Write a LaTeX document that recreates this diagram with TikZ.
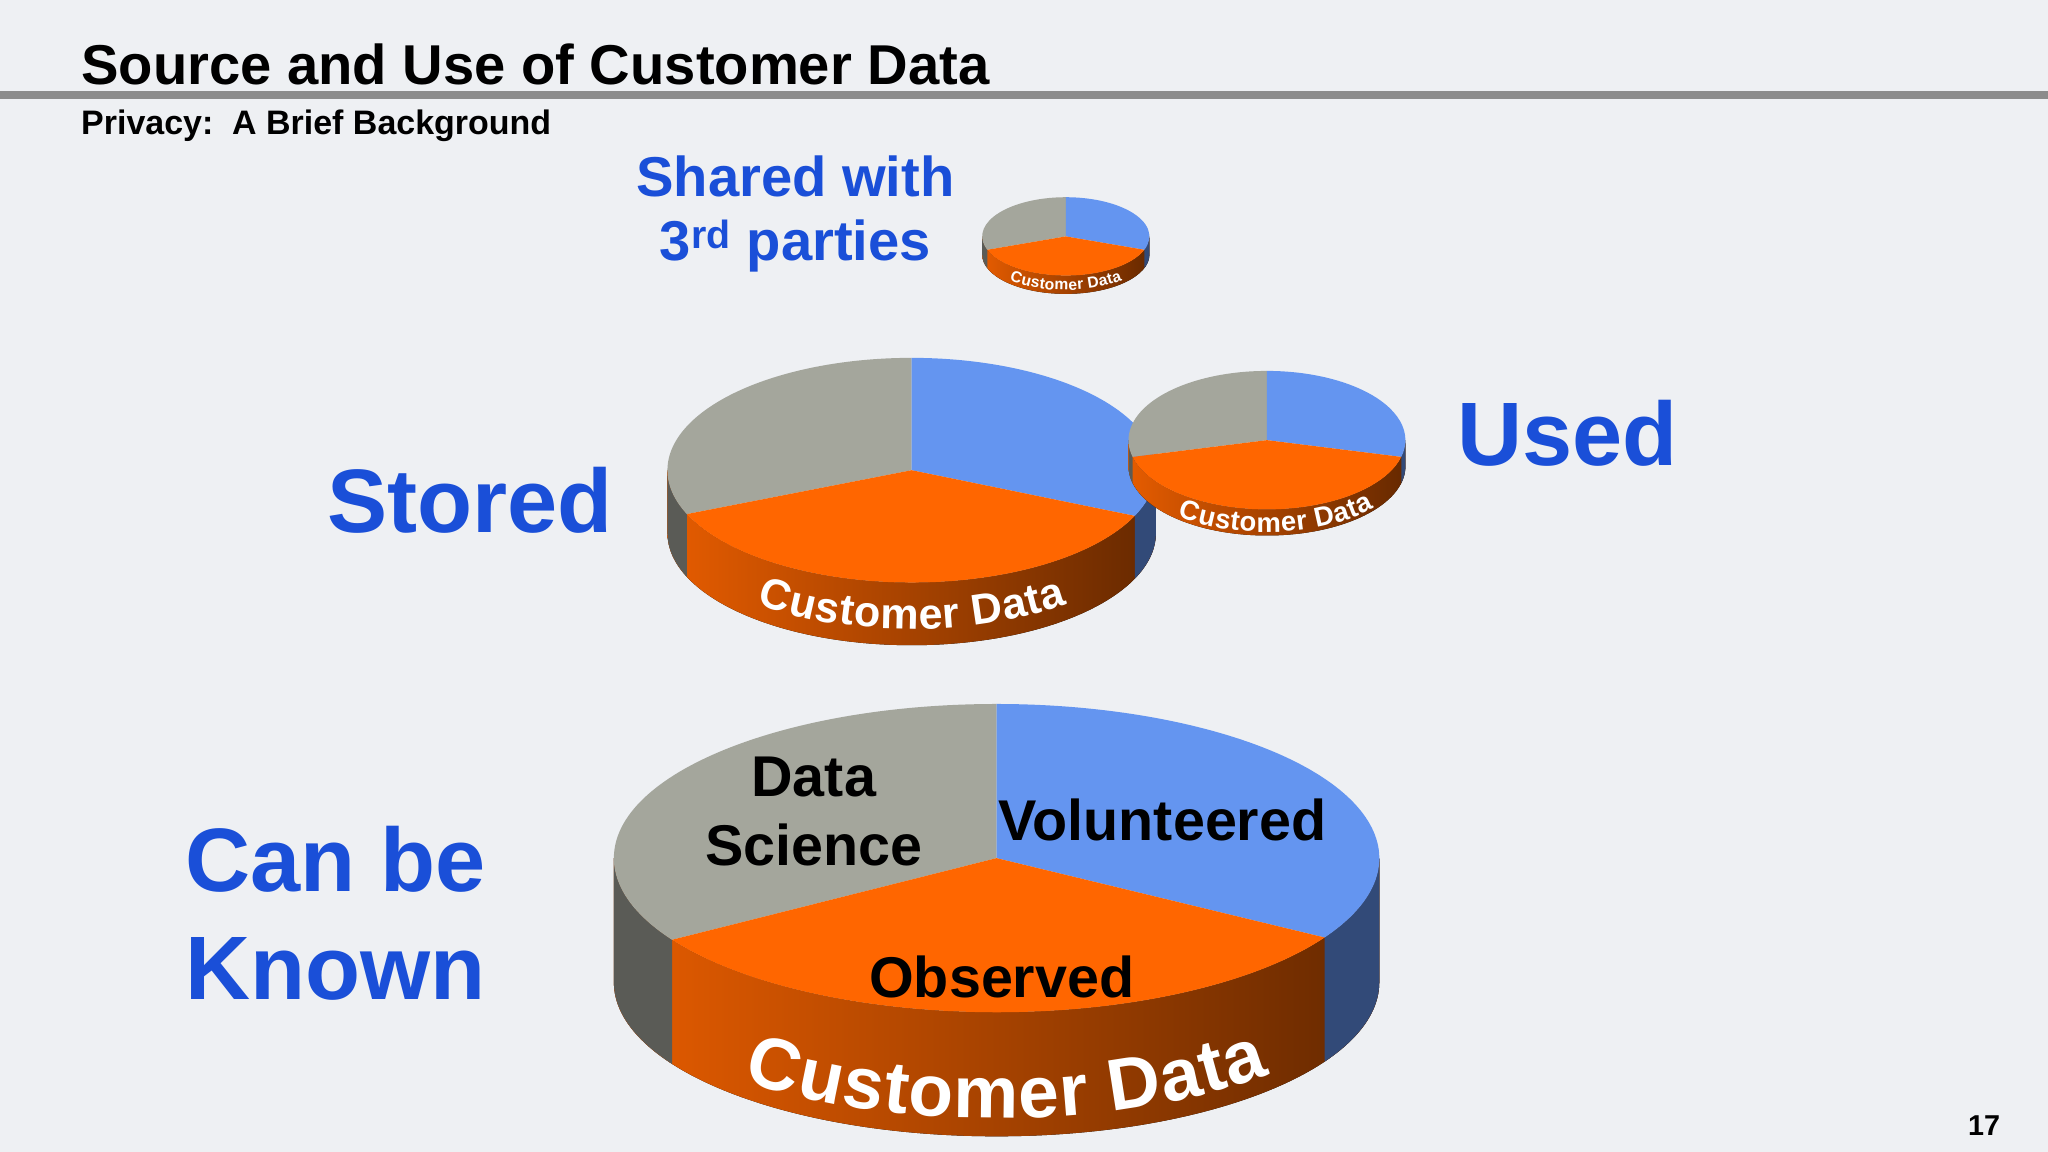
\documentclass[tikz,border=0pt]{standalone}
\usepackage{fontspec}
\setmainfont{Liberation Sans}
\usetikzlibrary{decorations.text}
\definecolor{ttlblue}{HTML}{1A4FD8}
\definecolor{pgray}{HTML}{A4A69C}
\definecolor{pblue}{HTML}{6495F0}
\definecolor{porange}{HTML}{FF6600}
\definecolor{bg}{HTML}{EEF0F3}
\tikzset{
  big/.style={font=\bfseries\fontsize{69}{72}\selectfont, text=ttlblue, align=center},
  mid/.style={font=\bfseries\fontsize{44}{46}\selectfont, text=black},
}
% cx cy rx ry h ag ab
\newcommand\piecake[7]{%
  \fill[left color=porange!90!black, right color=porange!40!black]
    (#1pt-#3pt,#2pt) arc[start angle=180,end angle=360,x radius=#3pt,y radius=#4pt]
    -- ++(0,-#5pt) arc[start angle=360,end angle=180,x radius=#3pt,y radius=#4pt] -- cycle;
  \fill[pblue!50!black] (#1pt,#2pt) ++(#7:#3pt and #4pt)
    arc[start angle=#7,end angle=0,x radius=#3pt,y radius=#4pt]
    -- ++(0,-#5pt) arc[start angle=0,end angle=#7,x radius=#3pt,y radius=#4pt] -- cycle;
  \fill[pgray!55!black] (#1pt-#3pt,#2pt)
    arc[start angle=180,end angle=#6,x radius=#3pt,y radius=#4pt]
    -- ++(0,-#5pt) arc[start angle=#6,end angle=180,x radius=#3pt,y radius=#4pt] -- cycle;
  \fill[pgray] (#1pt,#2pt) -- ++(90:#3pt and #4pt) arc[start angle=90,end angle=#6,x radius=#3pt,y radius=#4pt] -- cycle;
  \fill[pblue] (#1pt,#2pt) -- ++(#7:#3pt and #4pt) arc[start angle=#7,end angle=90,x radius=#3pt,y radius=#4pt] -- cycle;
  \fill[porange] (#1pt,#2pt) -- ++(#6:#3pt and #4pt) arc[start angle=#6,end angle=360+#7,x radius=#3pt,y radius=#4pt] -- cycle;
}
% cx cy rx ry h a1 a2 fontsize drop
\newcommand\bandtext[9]{%
  \path[decorate,decoration={text along path, text align=center, raise=-0.35*#8pt,
     text color=white, text={|\bfseries\fontsize{#8}{#8}\selectfont|Customer Data}}]
    (#1pt,#2pt-0.5*#5pt-#9pt) ++(#6:#3pt and #4pt)
    arc[start angle=#6,end angle=#7,x radius=#3pt,y radius=#4pt];
}
\begin{document}
\begin{tikzpicture}[x=1pt,y=1pt]
\fill[bg] (0,0) rectangle (1568,882);
\useasboundingbox (0,0) rectangle (1568,882);
\fill[gray!90] (0,806) rectangle (1568,812);
\node[anchor=base west, font=\bfseries\fontsize{43}{45}\selectfont, inner sep=0] (title) at (62,817) {Source and Use of Customer Data};
\node[anchor=base west, font=\bfseries\fontsize{26}{28}\selectfont, inner sep=0] (sub) at (62,779) {Privacy:\ \ A Brief Background};
\node[anchor=base, font=\bfseries\fontsize{22}{24}\selectfont, inner sep=0] (pg) at (1519,13) {17};

\piecake{763}{225}{293}{118}{95}{212}{-31}
\bandtext{763}{225}{293}{118}{95}{226}{318}{56}{14}
\piecake{698}{522}{187}{86}{48}{203}{-24}
\bandtext{698}{522}{187}{86}{48}{234}{306}{33}{0}
\piecake{970}{545}{106}{53}{20}{194}{-14}
\bandtext{970}{545}{106}{53}{20}{228}{322}{21}{0}
\piecake{816}{701}{64}{30}{14}{200}{-20}
\bandtext{816}{701}{64}{30}{14}{222}{318}{12}{0}

\node[font=\bfseries\fontsize{43}{45}\selectfont, text=ttlblue] (sh1) at (609,747) {Shared with};
\node[font=\bfseries\fontsize{43}{45}\selectfont, text=ttlblue] (sh2) at (609,694) {3\textsuperscript{rd} parties};
\node[big] (stored) at (360,499) {Stored};
\node[big] (used) at (1200,550) {Used};
\node[big] (can) at (257,224) {Can be};
\node[big] (known) at (257,140) {Known};
\node[mid] (d1) at (623,287) {Data};
\node[mid] (d2) at (623,235) {Science};
\node[mid] (vol) at (890,254) {Volunteered};
\node[mid] (obs) at (767,134) {Observed};
\end{tikzpicture}
\end{document}
